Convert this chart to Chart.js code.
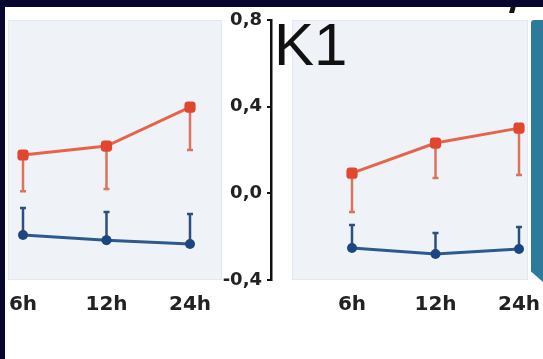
<!DOCTYPE html>
<html>
<head>
<meta charset="utf-8">
<script src="https://cdn.jsdelivr.net/npm/chart.js@4.4.0/dist/chart.umd.min.js"></script>
<style>
  html, body { margin: 0; padding: 0; background: #fff; }
  #wrap { position: relative; width: 543px; height: 359px; overflow: hidden; background: #fff; }
  .panel { position: absolute; background: #eff3f8; border: 1px solid #e2e8ef; box-sizing: border-box; }
  #p1 { left: 8px; top: 20px; width: 214px; height: 260px; }
  #p2 { left: 292px; top: 20px; width: 236px; height: 260px; }
  #teal { position: absolute; left: 531px; top: 20px; width: 12px; height: 262px; background: #2d7b9c;
          border-top-left-radius: 3px; clip-path: polygon(0 0, 100% 0, 100% 100%, 0 96%); }
  canvas { position: absolute; top: 0; }
  #c1 { left: 0; }
  #c2 { left: 200px; }
  #title { position: absolute; left: 274px; top: 15px; font: 60px "Liberation Sans", Arial, sans-serif;
           line-height: 60px; color: #111; }
  #bandTop { position: absolute; left: 0; top: 0; width: 543px; height: 7px; background: #060630; z-index: 5; }
  #bandLeft { position: absolute; left: 0; top: 0; width: 5px; height: 359px; background: #060630; z-index: 5; }
  #nick { position: absolute; left: 510px; top: 6px; width: 5px; height: 7px; background: #111; transform: skewX(-15deg); z-index: 6; }
</style>
</head>
<body>
<div id="wrap">
  <div class="panel" id="p1"></div>
  <div class="panel" id="p2"></div>
  <div id="teal"></div>
  <canvas id="c1" width="271" height="359"></canvas>
  <canvas id="c2" width="343" height="359"></canvas>
  <div id="title">K1</div>
  <div id="bandTop"></div>
  <div id="bandLeft"></div>
  <div id="nick"></div>
</div>
<script>
// Time points and y-axis ticks
const hours = ['6h', '12h', '24h'];
const yTicks = [-0.4, 0, 0.4, 0.8];

// Left panel: means and one-sided error ends
const leftUp = [0.177, 0.218, 0.398];
const leftUpErr = [0.01, 0.02, 0.20];
const leftDown = [-0.192, -0.216, -0.234];
const leftDownErr = [-0.068, -0.086, -0.095];

// Right panel: means and one-sided error ends
const rightUp = [0.093, 0.232, 0.301];
const rightUpErr = [-0.086, 0.071, 0.085];
const rightDown = [-0.252, -0.280, -0.257];
const rightDownErr = [-0.146, -0.183, -0.155];

const RED = '#e2462f', RED_LINE = '#e4654c', RED_ERR = '#dc735b';
const BLUE = '#1d4680', BLUE_LINE = '#2d5a8c', BLUE_ERR = '#2c4f7e';

const errorBars = {
  id: 'errorBars',
  beforeDatasetsDraw(chart) {
    const { ctx, scales: { x, y } } = chart;
    chart.data.datasets.forEach(ds => {
      ctx.save();
      ctx.strokeStyle = ds.errColor;
      ctx.lineWidth = 2.5;
      ds.data.forEach((p, i) => {
        const px = x.getPixelForValue(p.x);
        const py0 = y.getPixelForValue(p.y);
        const py1 = y.getPixelForValue(ds.errTo[i]);
        ctx.beginPath();
        ctx.moveTo(px, py0); ctx.lineTo(px, py1);
        ctx.moveTo(px - 3, py1); ctx.lineTo(px + 3, py1);
        ctx.stroke();
      });
      ctx.restore();
    });
  }
};

function series(vals, errs, up) {
  return {
    data: vals.map((v, i) => ({ x: i, y: v })),
    errTo: errs,
    errColor: up ? RED_ERR : BLUE_ERR,
    borderColor: up ? RED_LINE : BLUE_LINE,
    borderWidth: 3,
    pointStyle: up ? 'rectRounded' : 'circle',
    pointRadius: up ? 6.5 : 5,
    pointBackgroundColor: up ? RED : BLUE,
    pointBorderColor: up ? RED : BLUE,
    pointBorderWidth: 0,
    tension: 0,
    clip: false
  };
}

const xTickFont = { family: 'DejaVu Sans', weight: 'bold', size: 20 };

function xScale(min, max) {
  return {
    type: 'linear', min, max,
    afterBuildTicks(s) { s.ticks = [0, 1, 2].map(v => ({ value: v })); },
    afterFit(s) { s.height = 40; s.paddingLeft = 0; s.paddingRight = 0; },
    ticks: { callback: v => hours[v], font: xTickFont, color: '#222', padding: 13, maxRotation: 0, autoSkip: false },
    grid: { display: false, drawTicks: false },
    border: { display: false }
  };
}

const common = {
  responsive: false,
  animation: false,
  layout: { autoPadding: false, padding: { top: 20, bottom: 39, left: 0, right: 0 } },
  plugins: { legend: { display: false }, tooltip: { enabled: false } }
};

// Left panel (no visible y axis)
new Chart(document.getElementById('c1'), {
  type: 'line',
  data: { datasets: [series(leftUp, leftUpErr, true), series(leftDown, leftDownErr, false)] },
  options: Object.assign({}, common, {
    scales: {
      x: xScale(-23 / 83.5, -23 / 83.5 + 271 / 83.5),
      y: { display: false, min: -0.4, max: 0.8 }
    }
  }),
  plugins: [errorBars]
});

// Right panel with the shared y axis on its left
new Chart(document.getElementById('c2'), {
  type: 'line',
  data: { datasets: [series(rightUp, rightUpErr, true), series(rightDown, rightDownErr, false)] },
  options: Object.assign({}, common, {
    scales: {
      x: xScale(-81 / 83.5, -81 / 83.5 + 272 / 83.5),
      y: {
        position: 'left', min: -0.4, max: 0.8,
        afterBuildTicks(s) { s.ticks = yTicks.map(v => ({ value: v })); },
        afterFit(s) { s.width = 71; s.paddingTop = 0; s.paddingBottom = 0; },
        ticks: {
          callback: v => v.toFixed(1).replace('.', ','),
          font: { family: 'DejaVu Sans', weight: 'bold', size: 18 },
          color: '#222', padding: 5
        },
        grid: { drawOnChartArea: false, tickLength: 4, color: '#111', lineWidth: 2 },
        border: { display: true, color: '#111', width: 2.5 }
      }
    }
  }),
  plugins: [errorBars]
});
</script>
</body>
</html>
